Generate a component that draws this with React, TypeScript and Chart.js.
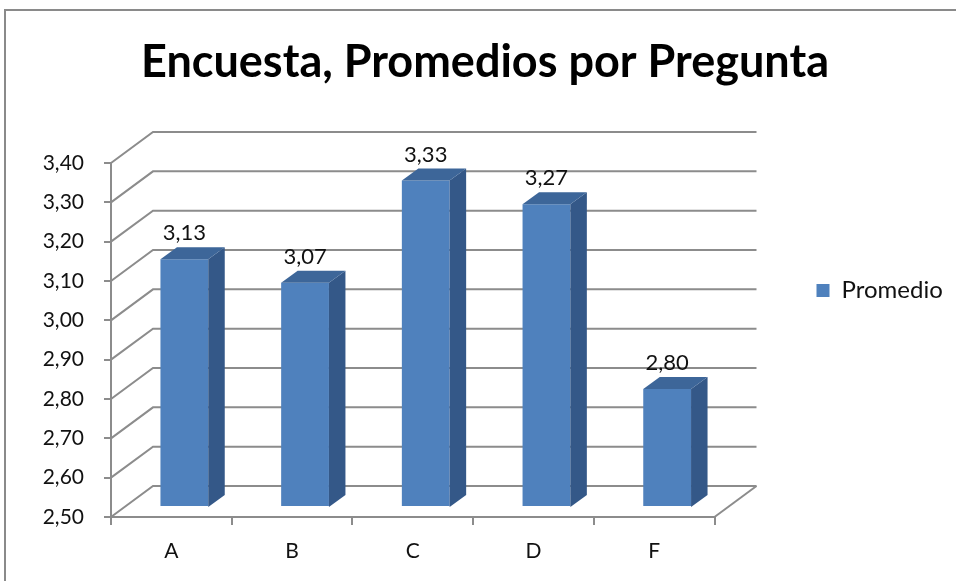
import React, { useEffect, useRef } from "react";
import { Chart, registerables } from "chart.js";

Chart.register(...registerables);

const categories = ["A", "B", "C", "D", "F"];
const promedio = [3.13, 3.07, 3.33, 3.27, 2.8];
const yTickValues = [2.5, 2.6, 2.7, 2.8, 2.9, 3.0, 3.1, 3.2, 3.3, 3.4];
const titleText = "Encuesta, Promedios por Pregunta";
const seriesName = "Promedio";

const fmt = (v: number) => v.toFixed(2).replace(".", ",");

const GRID = "#8C8C8C";
const FRONT = "#4F81BD";
const TOP = "#3D6699";
const SIDE = "#345888";
const WALL_DX = 42;
const WALL_DY = -31;
const BAR_TX = 13;
const BAR_TY = -10;
const BAR_DX = 16.5;
const BAR_DY = -12;
const Y_MIN = 2.5;
const PAD_LEFT = 26;

const wallPlugin = {
  id: "wall3d",
  beforeDatasetsDraw(chart: any) {
    const { ctx, chartArea } = chart;
    const y = chart.scales.y;
    const L = chartArea.left;
    const R = chartArea.right;
    ctx.save();
    ctx.strokeStyle = GRID;
    ctx.lineWidth = 2;
    yTickValues.forEach((v) => {
      const py = y.getPixelForValue(v);
      ctx.beginPath();
      ctx.moveTo(L, py);
      ctx.lineTo(L + WALL_DX, py + WALL_DY);
      ctx.lineTo(R + WALL_DX, py + WALL_DY);
      ctx.stroke();
    });
    const b = chartArea.bottom;
    ctx.beginPath();
    ctx.moveTo(R + WALL_DX, b + WALL_DY);
    ctx.lineTo(R, b);
    ctx.stroke();
    ctx.restore();
    ctx.save();
    ctx.translate(BAR_TX, BAR_TY);
  },
  afterDatasetsDraw(chart: any) {
    const { ctx } = chart;
    const meta = chart.getDatasetMeta(0);
    const base = chart.scales.y.getPixelForValue(Y_MIN);
    meta.data.forEach((bar: any, i: number) => {
      const { x, y, width } = bar.getProps(["x", "y", "width"], true);
      const l = x - width / 2;
      const r = x + width / 2;
      ctx.fillStyle = SIDE;
      ctx.beginPath();
      ctx.moveTo(r, y);
      ctx.lineTo(r + BAR_DX, y + BAR_DY);
      ctx.lineTo(r + BAR_DX, base + BAR_DY);
      ctx.lineTo(r, base);
      ctx.closePath();
      ctx.fill();
      ctx.fillStyle = TOP;
      ctx.beginPath();
      ctx.moveTo(l, y);
      ctx.lineTo(l + BAR_DX, y + BAR_DY);
      ctx.lineTo(r + BAR_DX, y + BAR_DY);
      ctx.lineTo(r, y);
      ctx.closePath();
      ctx.fill();
      ctx.fillStyle = "#111";
      ctx.font = "22px Lato";
      ctx.textAlign = "center";
      ctx.textBaseline = "middle";
      ctx.fillText(fmt(promedio[i]), x, y - 26);
    });
    ctx.restore();
  },
};

export default function App() {
  const ref = useRef<HTMLCanvasElement | null>(null);
  useEffect(() => {
    document.body.style.margin = "0";
    const chart = new Chart(ref.current as HTMLCanvasElement, {
      type: "bar",
      data: {
        labels: categories,
        datasets: [
          {
            label: seriesName,
            data: promedio,
            base: Y_MIN,
            backgroundColor: FRONT,
            borderWidth: 0,
            categoryPercentage: 1,
            barPercentage: 0.396,
          },
        ],
      },
      plugins: [wallPlugin],
      options: {
        animation: false,
        responsive: false,
        devicePixelRatio: 1,
        layout: { padding: { left: PAD_LEFT, right: 12, top: 0, bottom: 0 } },
        plugins: {
          title: {
            display: true,
            text: titleText,
            color: "#000",
            font: { family: "Lato", size: 45, weight: "bold", lineHeight: 1.2 },
            padding: { top: 35, bottom: 74 },
          },
          legend: {
            display: true,
            position: "right",
            labels: {
              boxWidth: 13,
              boxHeight: 13,
              padding: 102,
              color: "#111",
              font: { family: "Lato", size: 24 },
            },
          },
          tooltip: { enabled: false },
        },
        scales: {
          x: {
            grid: { drawOnChartArea: false, drawTicks: true, tickLength: 8, color: GRID, lineWidth: 2 },
            border: { display: true, color: GRID, width: 2 },
            ticks: { color: "#111", padding: 14, font: { family: "Lato", size: 21 } },
            afterFit: (s: any) => {
              s.height = 64;
            },
          },
          y: {
            min: Y_MIN,
            max: 3.4,
            afterBuildTicks: (s: any) => {
              s.ticks = yTickValues.map((v) => ({ value: v }));
            },
            grid: { drawOnChartArea: false, drawTicks: true, tickLength: 7, color: GRID, lineWidth: 2 },
            border: { display: true, color: GRID, width: 2 },
            ticks: {
              color: "#111",
              padding: 20,
              font: { family: "Lato", size: 21 },
              callback: (v: any) => fmt(Number(v)),
            },
            afterFit: (s: any) => {
              s.width = 111 - PAD_LEFT;
            },
          },
        },
      },
    } as any);
    return () => chart.destroy();
  }, []);
  return (
    <div style={{ position: "relative", width: 956, height: 581, overflow: "hidden", background: "#fff" }}>
      <div
        style={{
          position: "absolute",
          left: 4,
          top: 9,
          width: 2000,
          height: 2000,
          border: "2px solid #8A8A8A",
          pointerEvents: "none",
        }}
      />
      <canvas ref={ref} width={956} height={581} style={{ position: "absolute", left: 0, top: 0 }} />
    </div>
  );
}
